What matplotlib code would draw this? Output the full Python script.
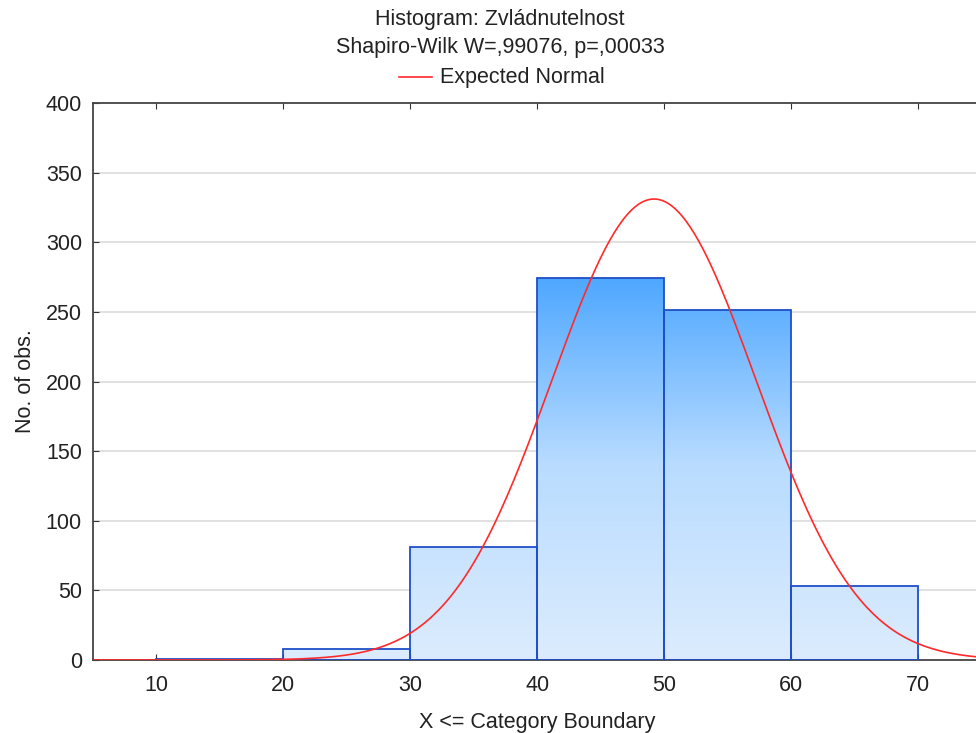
import matplotlib
matplotlib.use("Agg")
import matplotlib.pyplot as plt
import numpy as np
from matplotlib.colors import LinearSegmentedColormap
from matplotlib.path import Path
from matplotlib.patches import PathPatch

plt.rcParams['font.family'] = ['Liberation Sans', 'DejaVu Sans']

# histogram counts per category (upper boundary inclusive)
bin_edges = [10, 20, 30, 40, 50, 60, 70]
counts = [1, 8, 81, 274, 251, 53]

# expected normal parameters
n_obs = 668
mean_val = 49.2
sd_val = 8.05
bin_width = 10

title_lines = ["Histogram: Zvládnutelnost", "Shapiro-Wilk W=,99076, p=,00033"]
fs = 15.5

fig = plt.figure(figsize=(9.76, 7.33), dpi=100)
ax = fig.add_axes([93 / 976, 1 - 660 / 733, (981.5 - 93) / 976, (660 - 103) / 733])

ax.set_xlim(5, 75)
ax.set_ylim(0, 400)

# horizontal grid
for yv in range(50, 400, 50):
    ax.axhline(yv, color='#dcdcdc', lw=1.2, zorder=0)

# gradient fill for bars
cmap = LinearSegmentedColormap.from_list('bars', ['#dcecfd', '#b9dcff', '#4aa5ff'], N=256)
grad = np.linspace(0, 1, 256).reshape(-1, 1)
img = ax.imshow(grad, cmap=cmap, origin='lower', aspect='auto',
                extent=(5, 75, 0, 280), zorder=1, interpolation='bilinear')

bars = ax.bar(bin_edges[:-1], counts, width=bin_width, align='edge',
              facecolor='none', edgecolor='#1f4fc8', lw=1.3, zorder=3)

verts, codes = [], []
for left, h in zip(bin_edges[:-1], counts):
    verts += [(left, 0), (left + bin_width, 0), (left + bin_width, h), (left, h), (left, 0)]
    codes += [Path.MOVETO, Path.LINETO, Path.LINETO, Path.LINETO, Path.CLOSEPOLY]
clip = PathPatch(Path(verts, codes), transform=ax.transData, facecolor='none', edgecolor='none')
ax.add_patch(clip)
img.set_clip_path(clip)

# expected normal curve
xs = np.linspace(5, 75, 400)
ys = n_obs * bin_width / (sd_val * np.sqrt(2 * np.pi)) * np.exp(-0.5 * ((xs - mean_val) / sd_val) ** 2)
ax.plot(xs, ys, color='#ff2a2a', lw=1.2, zorder=4)

ax.set_xticks([10, 20, 30, 40, 50, 60, 70])
ax.set_yticks(range(0, 401, 50))
ax.tick_params(axis='both', direction='in', length=4, labelsize=fs, colors='#333333',
               labelcolor='#222222', top=True, right=True)
ax.tick_params(axis='x', pad=11)
ax.tick_params(axis='y', pad=8)
for s in ax.spines.values():
    s.set_color('#444444')
    s.set_linewidth(1.3)

ax.set_xlabel("X <= Category Boundary", fontsize=fs, color='#222222', labelpad=11)
ax.set_ylabel("No. of obs.", fontsize=fs, color='#222222', labelpad=7)

cx = 500 / 976
fig.text(cx, 1 - 20 / 733, title_lines[0], ha='center', va='center',
         fontsize=fs, color='#222222')
fig.text(cx, 1 - 48 / 733, title_lines[1], ha='center', va='center',
         fontsize=fs, color='#222222')
fig.lines.append(plt.Line2D([399 / 976, 432 / 976], [1 - 77 / 733, 1 - 77 / 733],
                            color='#ff2a2a', lw=1.2, transform=fig.transFigure))
fig.text(440 / 976, 1 - 77 / 733, "Expected Normal", ha='left', va='center',
         fontsize=fs, color='#222222')

fig.savefig("out.png", dpi=100)
